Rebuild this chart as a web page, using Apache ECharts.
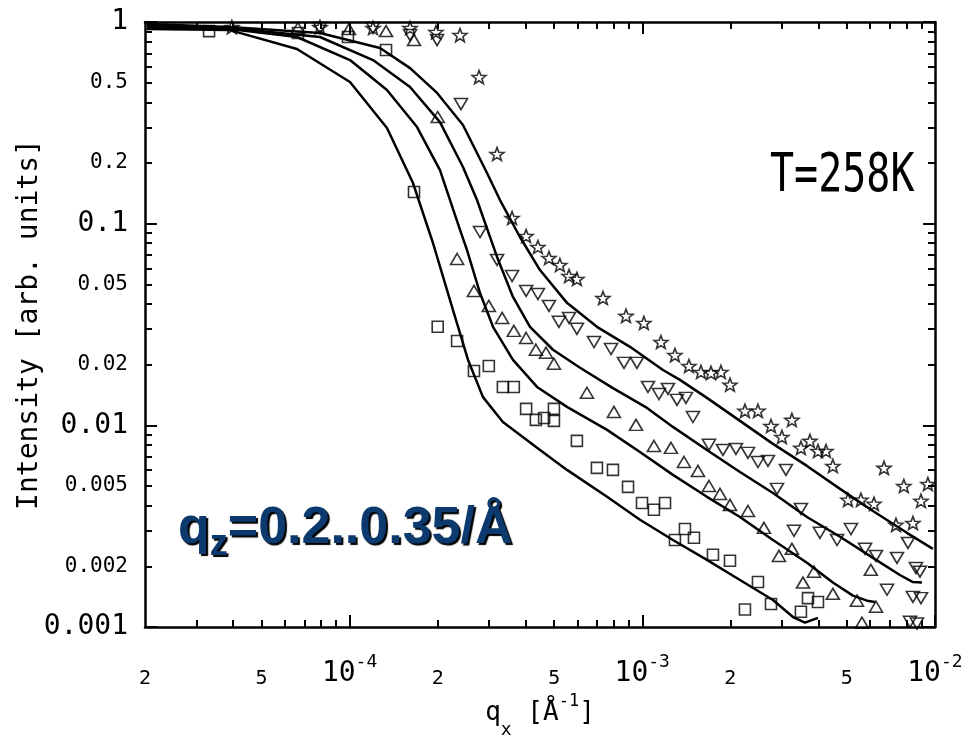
<!DOCTYPE html>
<html><head><meta charset="utf-8">
<script src="https://cdn.jsdelivr.net/npm/echarts@6/dist/echarts.min.js"></script>
<style>html,body{margin:0;padding:0;background:#fff}#c{width:966px;height:738px}</style>
</head><body><div id="c"></div>
<script>
// ---------- data (q_x in 1/Å, intensity in arb. units) ----------
const squareQ = [3.31e-5, 6.66e-5, 9.87e-5, 1.332e-4, 1.66e-4, 2.0e-4, 2.33e-4, 2.66e-4, 2.99e-4, 3.34e-4, 3.64e-4, 4.01e-4, 4.33e-4, 4.62e-4, 4.99e-4, 4.99e-4, 5.98e-4, 7.0e-4, 7.94e-4, 8.94e-4, 9.98e-4, 1.096e-3, 1.196e-3, 1.293e-3, 1.399e-3, 1.502e-3, 1.744e-3, 1.994e-3, 2.485e-3, 2.243e-3, 2.753e-3, 3.484e-3, 3.683e-3, 3.984e-3];
const squareI = [0.902, 0.882, 0.843, 0.727, 0.1436, 0.0308, 0.0262, 0.0186, 0.0197, 0.0155, 0.0155, 0.01206, 0.01064, 0.01088, 0.01206, 0.01052, 0.00837, 0.00615, 0.00601, 0.00495, 0.00412, 0.00381, 0.00412, 0.0027, 0.00306, 0.00277, 0.00228, 0.00213, 0.00167, 0.00122, 0.0013, 0.00119, 0.00139, 0.00133];

const upQ = [6.66e-5, 9.95e-5, 1.332e-4, 1.66e-4, 2.0e-4, 2.33e-4, 2.66e-4, 2.99e-4, 3.32e-4, 3.64e-4, 4.01e-4, 4.33e-4, 4.69e-4, 4.99e-4, 6.47e-4, 8.0e-4, 9.52e-4, 1.096e-3, 1.253e-3, 1.388e-3, 1.55e-3, 1.69e-3, 1.843e-3, 1.994e-3, 2.297e-3, 2.604e-3, 2.931e-3, 3.246e-3, 3.54e-3, 3.86e-3, 4.48e-3, 5.415e-3, 5.63e-3, 6.04e-3, 6.29e-3];
const upI = [0.934, 0.923, 0.902, 0.814, 0.338, 0.0668, 0.0464, 0.0391, 0.0341, 0.0294, 0.0271, 0.0237, 0.0229, 0.0202, 0.0145, 0.01165, 0.01005, 0.0079, 0.00773, 0.00658, 0.00594, 0.005, 0.00457, 0.00403, 0.00376, 0.0031, 0.00225, 0.00244, 0.00166, 0.00188, 0.00146, 0.00135, 0.00105, 0.00192, 0.00126];

const downQ = [7.92e-5, 1.202e-4, 1.609e-4, 1.99e-4, 2.402e-4, 2.79e-4, 3.19e-4, 3.59e-4, 4.01e-4, 4.40e-4, 4.80e-4, 5.19e-4, 5.62e-4, 5.98e-4, 6.84e-4, 7.82e-4, 8.66e-4, 9.59e-4, 1.046e-3, 1.14e-3, 1.224e-3, 1.314e-3, 1.41e-3, 1.49e-3, 1.69e-3, 1.887e-3, 2.09e-3, 2.297e-3, 2.485e-3, 2.689e-3, 3.097e-3, 2.886e-3, 3.484e-3, 3.299e-3, 4.046e-3, 4.63e-3, 5.164e-3, 5.77e-3, 6.29e-3, 7.42e-3, 8.09e-3, 6.86e-3, 8.61e-3, 8.89e-3, 8.41e-3, 8.96e-3, 8.22e-3, 8.68e-3];
const downI = [0.934, 0.934, 0.862, 0.814, 0.392, 0.0909, 0.0661, 0.055, 0.0464, 0.0448, 0.0391, 0.0326, 0.0341, 0.0301, 0.0259, 0.0239, 0.0204, 0.0204, 0.0155, 0.0143, 0.01515, 0.01337, 0.01368, 0.011, 0.008, 0.00755, 0.00764, 0.0073, 0.00658, 0.00666, 0.00601, 0.00484, 0.00385, 0.003, 0.00293, 0.0027, 0.00306, 0.00244, 0.00225, 0.0022, 0.00261, 0.00153, 0.00196, 0.00188, 0.00141, 0.00139, 0.00106, 0.00104];

const starQ = [3.96e-5, 7.92e-5, 1.202e-4, 1.609e-4, 1.973e-4, 2.384e-4, 2.768e-4, 3.19e-4, 3.59e-4, 4.01e-4, 4.40e-4, 4.80e-4, 5.23e-4, 5.62e-4, 5.98e-4, 7.34e-4, 8.80e-4, 1.013e-3, 1.158e-3, 1.293e-3, 1.444e-3, 1.587e-3, 1.717e-3, 1.857e-3, 1.994e-3, 2.243e-3, 2.485e-3, 2.753e-3, 3.0e-3, 3.246e-3, 3.484e-3, 3.74e-3, 3.984e-3, 4.243e-3, 4.48e-3, 6.70e-3, 5.045e-3, 5.587e-3, 6.19e-3, 7.83e-3, 8.96e-3, 9.46e-3, 7.36e-3, 8.41e-3];
const starI = [0.944, 0.944, 0.934, 0.934, 0.892, 0.862, 0.5336, 0.2216, 0.1067, 0.0869, 0.0766, 0.0676, 0.0624, 0.055, 0.0532, 0.0428, 0.0349, 0.0322, 0.0259, 0.0223, 0.0197, 0.0184, 0.0182, 0.0184, 0.0159, 0.0118, 0.0118, 0.00993, 0.00876, 0.01064, 0.00773, 0.00837, 0.00746, 0.00746, 0.00629, 0.00615, 0.00427, 0.00427, 0.00408, 0.005, 0.00422, 0.00512, 0.00321, 0.00328];

const fitAQ = [2.03e-5, 3.90e-5, 6.61e-5, 1.003e-4, 1.342e-4, 1.647e-4, 1.927e-4, 2.256e-4, 2.539e-4, 2.856e-4, 3.34e-4, 4.37e-4, 5.53e-4, 7.58e-4, 9.82e-4, 1.273e-3, 1.663e-3, 2.157e-3, 2.796e-3, 3.273e-3, 3.597e-3, 3.984e-3];
const fitAI = [0.923, 0.912, 0.735, 0.504, 0.298, 0.159, 0.0802, 0.0373, 0.0211, 0.0138, 0.01039, 0.00773, 0.00601, 0.00442, 0.0034, 0.0027, 0.00215, 0.00171, 0.00136, 0.00112, 0.00105, 0.00111];

const fitBQ = [2.03e-5, 3.90e-5, 6.61e-5, 1.003e-4, 1.342e-4, 1.70e-4, 2.036e-4, 2.384e-4, 2.519e-4, 2.79e-4, 3.09e-4, 3.616e-4, 4.37e-4, 5.53e-4, 7.58e-4, 9.82e-4, 1.273e-3, 1.663e-3, 2.157e-3, 2.796e-3, 3.654e-3, 4.48e-3, 5.245e-3, 5.86e-3, 6.24e-3];
const fitBI = [0.944, 0.923, 0.843, 0.648, 0.46, 0.3015, 0.1845, 0.0931, 0.074, 0.0453, 0.0308, 0.0211, 0.0155, 0.01234, 0.00949, 0.00738, 0.00568, 0.00442, 0.00351, 0.0027, 0.00208, 0.00166, 0.00143, 0.00135, 0.00133];

const fitCQ = [2.03e-5, 3.90e-5, 7.92e-5, 1.202e-4, 1.609e-4, 2.036e-4, 2.44e-4, 2.725e-4, 3.19e-4, 3.616e-4, 4.134e-4, 4.953e-4, 6.13e-4, 7.94e-4, 1.038e-3, 1.273e-3, 1.663e-3, 2.157e-3, 2.796e-3, 3.654e-3, 4.74e-3, 6.14e-3, 7.59e-3, 8.41e-3, 9.03e-3];
const fitCI = [0.966, 0.934, 0.843, 0.648, 0.476, 0.319, 0.191, 0.131, 0.0684, 0.0433, 0.0308, 0.0237, 0.0193, 0.0153, 0.0122, 0.00982, 0.00755, 0.00587, 0.00462, 0.00351, 0.0028, 0.0022, 0.00181, 0.00167, 0.00166];

const fitDQ = [2.03e-5, 3.90e-5, 7.92e-5, 1.27e-4, 1.609e-4, 1.99e-4, 2.44e-4, 2.948e-4, 3.265e-4, 3.82e-4, 4.472e-4, 5.53e-4, 7.0e-4, 9.08e-4, 1.177e-3, 1.345e-3, 1.663e-3, 2.157e-3, 2.796e-3, 3.654e-3, 4.74e-3, 6.14e-3, 8.02e-3, 9.84e-3];
const fitDI = [0.977, 0.944, 0.882, 0.743, 0.591, 0.445, 0.3086, 0.1783, 0.131, 0.0859, 0.0589, 0.0405, 0.0308, 0.0245, 0.0188, 0.0168, 0.01368, 0.01052, 0.00809, 0.00629, 0.00484, 0.00376, 0.00293, 0.00244];

// ---------- ticks and tick labels ----------
const xMajorTicks = [1e-4, 1e-3, 1e-2];
const xMinorTicks = [3e-5, 4e-5, 5e-5, 6e-5, 7e-5, 8e-5, 9e-5, 2e-4, 3e-4, 4e-4, 5e-4, 6e-4, 7e-4, 8e-4, 9e-4, 2e-3, 3e-3, 4e-3, 5e-3, 6e-3, 7e-3, 8e-3, 9e-3];
const xDecadeVals = [1e-4, 1e-3, 1e-2];
const xDecadeExps = ['-4', '-3', '-2'];
const xMinorLabelVals = [2e-5, 5e-5, 2e-4, 5e-4, 2e-3, 5e-3];
const xMinorLabels = ['2', '5', '2', '5', '2', '5'];

const yMajorTicks = [0.001, 0.01, 0.1, 1];
const yMinorTicks = [0.002, 0.003, 0.004, 0.005, 0.006, 0.007, 0.008, 0.009, 0.02, 0.03, 0.04, 0.05, 0.06, 0.07, 0.08, 0.09, 0.2, 0.3, 0.4, 0.5, 0.6, 0.7, 0.8, 0.9];
const yDecadeVals = [0.001, 0.01, 0.1, 1];
const yDecadeLabels = ['0.001', '0.01', '0.1', '1'];
const yMinorLabelVals = [0.002, 0.005, 0.02, 0.05, 0.2, 0.5];
const yMinorLabels = ['0.002', '0.005', '0.02', '0.05', '0.2', '0.5'];

// ---------- helpers ----------
const MONO = "'DejaVu Sans Mono', 'Liberation Mono', monospace";
const SANS = "'Liberation Sans', Arial, sans-serif";
const pairs = (xs, ys) => xs.map((x, i) => [x, ys[i]]);
function lookup(vals, labels) {
  return v => {
    for (let i = 0; i < vals.length; i++) {
      if (Math.abs(Math.log10(v) - Math.log10(vals[i])) < 1e-3) return labels[i];
    }
    return '';
  };
}
function starPath() {
  const p = [];
  for (let i = 0; i < 10; i++) {
    const r = i % 2 ? 0.42 : 1;
    const a = -Math.PI / 2 + i * Math.PI / 5;
    p.push((r * Math.cos(a)).toFixed(4) + ' ' + (r * Math.sin(a)).toFixed(4));
  }
  return 'path://M' + p.join(' L') + ' Z';
}
const XMIN = 1.9995e-5, XMAX = 1.0005e-2, YMIN = 0.9995e-3, YMAX = 1.0005;
const tickStyle = { color: '#000', width: 2 };
const lineStyleAx = { color: '#000', width: 2.5 };

function axisDef(kind, pos, ticks, len, showLine, label, extra) {
  return Object.assign({
    type: 'log', logBase: 10,
    min: kind === 'x' ? XMIN : YMIN, max: kind === 'x' ? XMAX : YMAX,
    position: pos, gridIndex: 0,
    axisLine: { show: showLine, onZero: false, lineStyle: lineStyleAx },
    axisTick: { show: true, inside: true, length: len, lineStyle: tickStyle, customValues: ticks },
    minorTick: { show: false },
    axisLabel: label || { show: false },
    splitLine: { show: false }, axisPointer: { show: false },
    nameMoveOverlap: false
  }, extra || {});
}

const xExpFmt = lookup(xDecadeVals, xDecadeExps);
const markerStyle = { color: 'rgba(0,0,0,0)', borderColor: '#000', borderWidth: 1.6 };
const qzTok = { fontFamily: SANS, fontWeight: 'bold', fill: '#0c3a6e', verticalAlign: 'top',
  textShadowColor: '#000', textShadowOffsetX: 2, textShadowOffsetY: 2, textShadowBlur: 1 };

const option = {
  animation: false,
  backgroundColor: '#fff',
  grid: { left: 145, right: 31, top: 22, bottom: 111, outerBoundsMode: 'none', containLabel: false },
  xAxis: [
    axisDef('x', 'bottom', xMajorTicks, 12, true, {
      show: true, customValues: xDecadeVals, margin: 26,
      formatter: v => '{b|10}{s|' + xExpFmt(v) + '}',
      rich: {
        b: { fontFamily: MONO, fontSize: 28, lineHeight: 42, color: '#000' },
        s: { fontFamily: MONO, fontSize: 18, lineHeight: 18, verticalAlign: 'top', color: '#000' }
      }
    }, {
      name: '{m|q}{sub|x}{m| [Å}{sup|-1}{m|]}',
      nameLocation: 'middle', nameGap: 60,
      nameTextStyle: {
        rich: {
          m: { fontFamily: MONO, fontSize: 26, height: 52, lineHeight: 52, verticalAlign: 'top', color: '#000' },
          sub: { fontFamily: MONO, fontSize: 18, height: 86, lineHeight: 86, verticalAlign: 'top', color: '#000' },
          sup: { fontFamily: MONO, fontSize: 17, height: 30, lineHeight: 30, verticalAlign: 'top', color: '#000' }
        }
      }
    }),
    axisDef('x', 'bottom', xMinorTicks, 7, false, {
      show: true, customValues: xMinorLabelVals, margin: 42,
      formatter: lookup(xMinorLabelVals, xMinorLabels),
      fontFamily: MONO, fontSize: 20, lineHeight: 20, color: '#000'
    }),
    axisDef('x', 'top', xMajorTicks, 12, true),
    axisDef('x', 'top', xMinorTicks, 7, false)
  ],
  yAxis: [
    axisDef('y', 'left', yMajorTicks, 12, true, {
      show: true, customValues: yDecadeVals, margin: 17,
      formatter: lookup(yDecadeVals, yDecadeLabels),
      fontFamily: MONO, fontSize: 28, color: '#000'
    }, {
      name: 'Intensity [arb. units]', nameLocation: 'middle', nameGap: 101, nameRotate: 90,
      nameTextStyle: { fontFamily: MONO, fontSize: 28, color: '#000' }
    }),
    axisDef('y', 'left', yMinorTicks, 7, false, {
      show: true, customValues: yMinorLabelVals, margin: 17,
      formatter: lookup(yMinorLabelVals, yMinorLabels),
      fontFamily: MONO, fontSize: 21, color: '#000'
    }),
    axisDef('y', 'right', yMajorTicks, 12, true),
    axisDef('y', 'right', yMinorTicks, 7, false)
  ],
  graphic: [
    { type: 'text', x: 770, y: 177, scaleY: 1.35, z: 100,
      style: { text: 'T=258K', fontFamily: MONO, fontSize: 40, fill: '#000', align: 'left', verticalAlign: 'middle' } },
    { type: 'text', x: 178, y: 503, z: 100,
      style: {
        text: '{m|q}{z|z}{m|=0.2..0.35/Å}', align: 'left', verticalAlign: 'top',
        rich: {
          m: Object.assign({}, qzTok, { fontSize: 52, height: 52, lineHeight: 52 }),
          z: Object.assign({}, qzTok, { fontSize: 36, height: 85, lineHeight: 85 })
        }
      } }
  ],
  series: [
    { type: 'line', name: 'fitA', data: pairs(fitAQ, fitAI), showSymbol: false, symbol: 'none', lineStyle: { color: '#000', width: 2.5 }, silent: true, z: 2 },
    { type: 'line', name: 'fitB', data: pairs(fitBQ, fitBI), showSymbol: false, symbol: 'none', lineStyle: { color: '#000', width: 2.5 }, silent: true, z: 2 },
    { type: 'line', name: 'fitC', data: pairs(fitCQ, fitCI), showSymbol: false, symbol: 'none', lineStyle: { color: '#000', width: 2.5 }, silent: true, z: 2 },
    { type: 'line', name: 'fitD', data: pairs(fitDQ, fitDI), showSymbol: false, symbol: 'none', lineStyle: { color: '#000', width: 2.5 }, silent: true, z: 2 },
    { type: 'scatter', name: 'squares', data: pairs(squareQ, squareI), symbol: 'rect', symbolSize: 11, itemStyle: markerStyle, silent: true, z: 3 },
    { type: 'scatter', name: 'up', data: pairs(upQ, upI), symbol: 'triangle', symbolSize: [13, 11], itemStyle: markerStyle, silent: true, z: 3 },
    { type: 'scatter', name: 'down', data: pairs(downQ, downI), symbol: 'triangle', symbolRotate: 180, symbolSize: [13, 11], itemStyle: markerStyle, silent: true, z: 3 },
    { type: 'scatter', name: 'stars', data: pairs(starQ, starI), symbol: starPath(), symbolSize: [14, 13], itemStyle: markerStyle, silent: true, z: 3 }
  ]
};
const chart = echarts.init(document.getElementById('c'), null, { renderer: 'canvas' });
chart.setOption(option);
</script>
</body></html>
